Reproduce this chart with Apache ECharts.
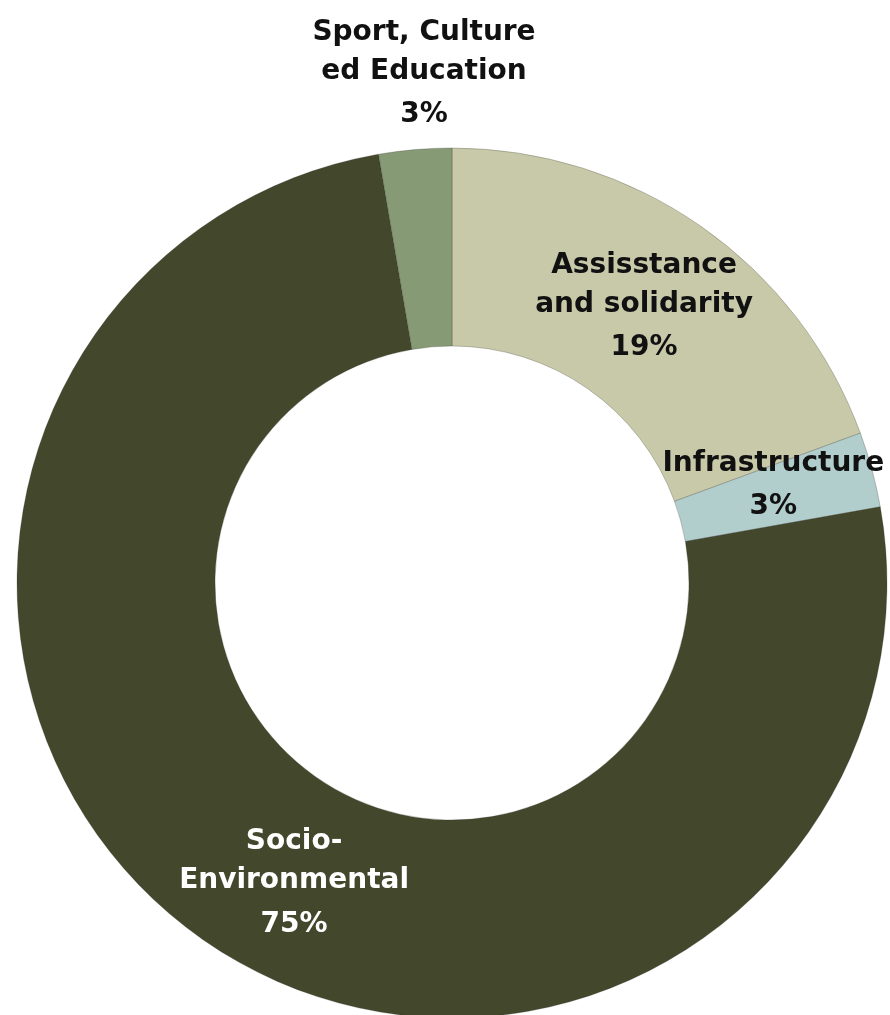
<!DOCTYPE html>
<html>
<head>
<meta charset="utf-8">
<script src="https://cdn.jsdelivr.net/npm/echarts@6/dist/echarts.min.js"></script>
<style>html,body{margin:0;padding:0;background:#fff}#c{width:890px;height:1015px}</style>
</head>
<body>
<div id="c"></div>
<script>
const categories = ['Assisstance\nand solidarity', 'Infrastructure', 'Socio-\nEnvironmental', 'Sport, Culture\ned Education'];
const values = [19.4, 2.8, 75.1, 2.7];
const colors = ['#C8C9A9', '#B1CDCC', '#43472B', '#869A75'];
const labelColors = ['#111', '#111', '#fff', '#111'];

const chart = echarts.init(document.getElementById('c'));
const font = '"DejaVu Sans", sans-serif';
const offsets = [[-2, 4], [-6, -7], [37, 25], [0, 0]];
chart.setOption({
  animation: false,
  series: [{
    type: 'pie',
    center: [452, 583],
    radius: [237, 435],
    startAngle: 90,
    clockwise: true,
    avoidLabelOverlap: false,
    labelLine: { show: false },
    itemStyle: { borderColor: 'rgba(40,40,30,0.5)', borderWidth: 0.5 },
    data: categories.map((c, i) => ({
      name: c,
      value: values[i],
      itemStyle: { color: colors[i] },
      label: { color: labelColors[i], offset: offsets[i] }
    })),
    label: {
      show: true,
      position: 'inside',
      formatter: p => '{n|' + p.name.split('\n').join('}\n{n|') + '}\n{p|' + Math.round(p.percent) + '%}',
      rich: {
        n: { fontFamily: font, fontWeight: 'bold', fontSize: 28, lineHeight: 39, align: 'center' },
        p: { fontFamily: font, fontWeight: 'bold', fontSize: 28, lineHeight: 48, align: 'center' }
      }
    },
    labelLayout: function (params) {
      if (params.dataIndex === 3) {
        return { x: 424, y: 76, align: 'center', verticalAlign: 'middle' };
      }
    }
  }]
});
</script>
</body>
</html>
